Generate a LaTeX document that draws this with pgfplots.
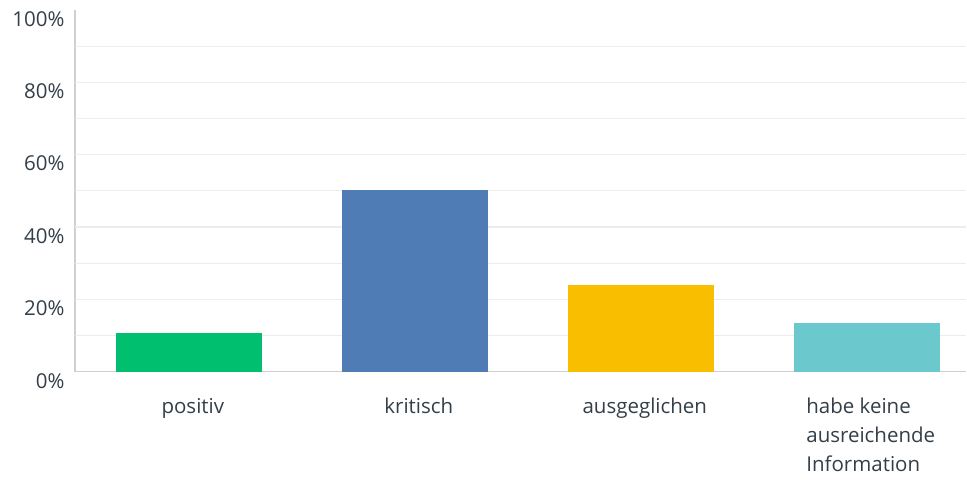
\documentclass[border=0pt]{standalone}
\usepackage{fontspec}
\setmainfont{Open Sans}
\usepackage{pgfplots}
\pgfplotsset{compat=1.18}
\definecolor{sgreen}{HTML}{00BF6F}
\definecolor{sblue}{HTML}{507CB6}
\definecolor{syellow}{HTML}{F9BE00}
\definecolor{steal}{HTML}{6BC8CD}
\definecolor{textgray}{HTML}{333E48}
\definecolor{gridgray}{HTML}{EDEDED}
\definecolor{axisgray}{HTML}{D0D0D0}

\begin{document}
\begin{tikzpicture}
\begin{axis}[
  scale only axis, width=892pt, height=362pt,
  xmin=-0.504, xmax=3.44, ymin=0, ymax=100,
  axis x line*=bottom, axis y line*=left,
  x axis line style={draw=axisgray, line width=1.6pt, -},
  y axis line style={draw=axisgray, line width=1.2pt, -},
  major tick length=0pt,
  xtick={0,1,2,3},
  xticklabels={positiv, kritisch, ausgeglichen, {habe keine\\ausreichende\\Information}},
  xticklabel style={align=left, font=\fontsize{20.5}{29}\selectfont, text=textgray, yshift=-23pt, xshift=4pt},
  ytick={0,20,...,100},
  yticklabels={0\%,20\%,40\%,60\%,80\%,100\%},
  yticklabel style={yshift=-9pt, xshift=-7pt, font=\fontsize{20.5}{24}\selectfont, text=textgray},
  extra y ticks={10,20,...,90},
  extra y tick labels={},
  extra y tick style={grid=major, major grid style={draw=gridgray, line width=1.2pt}},
  bar width=146pt,
]
\addplot[ybar, fill=sgreen, draw=none] coordinates {(0,10.8)};
\addplot[ybar, fill=sblue, draw=none] coordinates {(1,50.3)};
\addplot[ybar, fill=syellow, draw=none] coordinates {(2,24.0)};
\addplot[ybar, fill=steal, draw=none] coordinates {(3,13.5)};
\end{axis}
\useasboundingbox ([xshift=-75pt,yshift=-109pt]current axis.south west) rectangle ([yshift=10pt]current axis.north east);
\end{tikzpicture}
\end{document}
